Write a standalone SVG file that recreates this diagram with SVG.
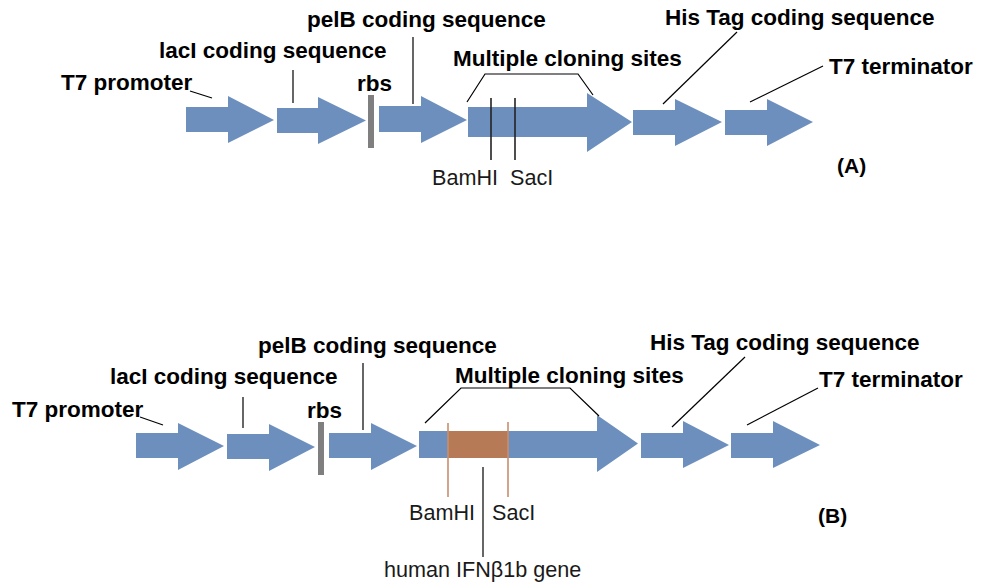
<svg xmlns="http://www.w3.org/2000/svg" width="981" height="585" viewBox="0 0 981 585">
<style>
.arrow{fill:#6d8fbe}
.rbs{fill:#7f7f7f}
.gene{fill:#b77a57}
.lbl{font-family:"Liberation Sans",Arial,sans-serif;font-weight:bold;font-size:22.5px;fill:#000}
.site{font-family:"Liberation Sans",Arial,sans-serif;font-size:21.6px;fill:#1a1a1a}
.lead{stroke:#000;stroke-width:1.2;fill:none}
.cut{stroke:#222;stroke-width:1.6;fill:none}
.bcut{stroke:#c98e6c;stroke-width:1.6;fill:none}
</style>
<rect width="981" height="585" fill="#fff"/>

<!-- Panel A -->
<g id="A-t7promoter">
<polygon class="arrow" points="186,107 228,107 228,96 274,120 228,143 228,132 186,132"/>
<text class="lbl" x="61" y="90">T7 promoter</text>
</g>
<g id="A-lacI">
<polygon class="arrow" points="277,108 318,108 318,97 366,120.5 318,144 318,133 277,133"/>
<text class="lbl" x="159" y="58">lacI coding sequence</text>
</g>
<g id="A-rbs">
<rect class="rbs" x="368" y="95" width="6" height="53"/>
<text class="lbl" x="357" y="91">rbs</text>
</g>
<g id="A-pelB">
<polygon class="arrow" points="379,106 421,106 421,96 467,120 421,143 421,132 379,132"/>
<text class="lbl" x="307" y="27">pelB coding sequence</text>
</g>
<g id="A-mcs">
<polygon class="arrow" points="468,107 587,107 587,93 632,122 587,152 587,137 468,137"/>
<text class="lbl" x="453" y="66">Multiple cloning sites</text>
<line class="cut" x1="491" y1="98" x2="491" y2="160"/>
<line class="cut" x1="515" y1="98" x2="515" y2="160"/>
<text class="site" x="432" y="185">BamHI</text>
<text class="site" x="510" y="185">SacI</text>
</g>
<g id="A-his">
<polygon class="arrow" points="633,110 675,110 675,99 722,122 675,146 675,135 633,135"/>
<text class="lbl" x="665" y="25">His Tag coding sequence</text>
</g>
<g id="A-t7term">
<polygon class="arrow" points="725,110 767,110 767,99 813,122 767,146 767,135 725,135"/>
<text class="lbl" x="829" y="74">T7 terminator</text>
</g>
<text id="A-label" class="lbl" style="font-size:21px" x="837" y="173">(A)</text>

<!-- Panel B -->
<g id="B-t7promoter">
<polygon class="arrow" points="136,433 178,433 178,423 224,446 178,470 178,458 136,458"/>
<text class="lbl" x="12" y="417">T7 promoter</text>
</g>
<g id="B-lacI">
<polygon class="arrow" points="227,434 269,434 269,424 315,447 269,471 269,459 227,459"/>
<text class="lbl" x="110" y="384">lacI coding sequence</text>
</g>
<g id="B-rbs">
<rect class="rbs" x="318" y="422" width="6" height="53"/>
<text class="lbl" x="307" y="418">rbs</text>
</g>
<g id="B-pelB">
<polygon class="arrow" points="329,433 371,433 371,423 417,446 371,470 371,458 329,458"/>
<text class="lbl" x="258" y="353">pelB coding sequence</text>
</g>
<g id="B-mcs">
<polygon class="arrow" points="419,431 597,431 597,415 638,443.5 597,472 597,458 419,458"/>
<rect class="gene" x="448" y="431" width="60" height="27"/>
<line class="bcut" x1="448" y1="423" x2="448" y2="497"/>
<line class="bcut" x1="508" y1="422" x2="508" y2="497"/>
<text class="lbl" x="455" y="383">Multiple cloning sites</text>
<text class="site" x="409" y="520">BamHI</text>
<text class="site" x="492" y="520">SacI</text>
</g>
<g id="B-gene">
<line class="lead" x1="483" y1="467" x2="483" y2="557"/>
<text class="site" x="384" y="577">human IFNβ1b gene</text>
</g>
<g id="B-his">
<polygon class="arrow" points="641,433 683,433 683,421 729,445 683,468 683,458 641,458"/>
<text class="lbl" x="650" y="350">His Tag coding sequence</text>
</g>
<g id="B-t7term">
<polygon class="arrow" points="731,433 773,433 773,421 820,445 773,468 773,458 731,458"/>
<text class="lbl" x="819" y="387">T7 terminator</text>
</g>
<text id="B-label" class="lbl" style="font-size:21px" x="818" y="523">(B)</text>

<g id="connectors">
<!-- Panel A leaders -->
<line class="lead" x1="190" y1="91" x2="212" y2="98"/>
<line class="lead" x1="293" y1="70" x2="293" y2="103"/>
<line class="lead" x1="413" y1="37" x2="413" y2="104"/>
<polyline class="lead" points="467,102 485,74 578,74 593,95"/>
<line class="lead" x1="737" y1="32" x2="663" y2="104"/>
<line class="lead" x1="823" y1="66" x2="750" y2="102"/>
<!-- Panel B leaders -->
<line class="lead" x1="140" y1="417" x2="163" y2="425"/>
<line class="lead" x1="243" y1="397" x2="243" y2="428"/>
<line class="lead" x1="363" y1="363" x2="363" y2="430"/>
<polyline class="lead" points="425,423 461,388 570,388 599,416"/>
<line class="lead" x1="745" y1="357" x2="672" y2="427"/>
<line class="lead" x1="818" y1="388" x2="747" y2="425"/>
</g>
</svg>
